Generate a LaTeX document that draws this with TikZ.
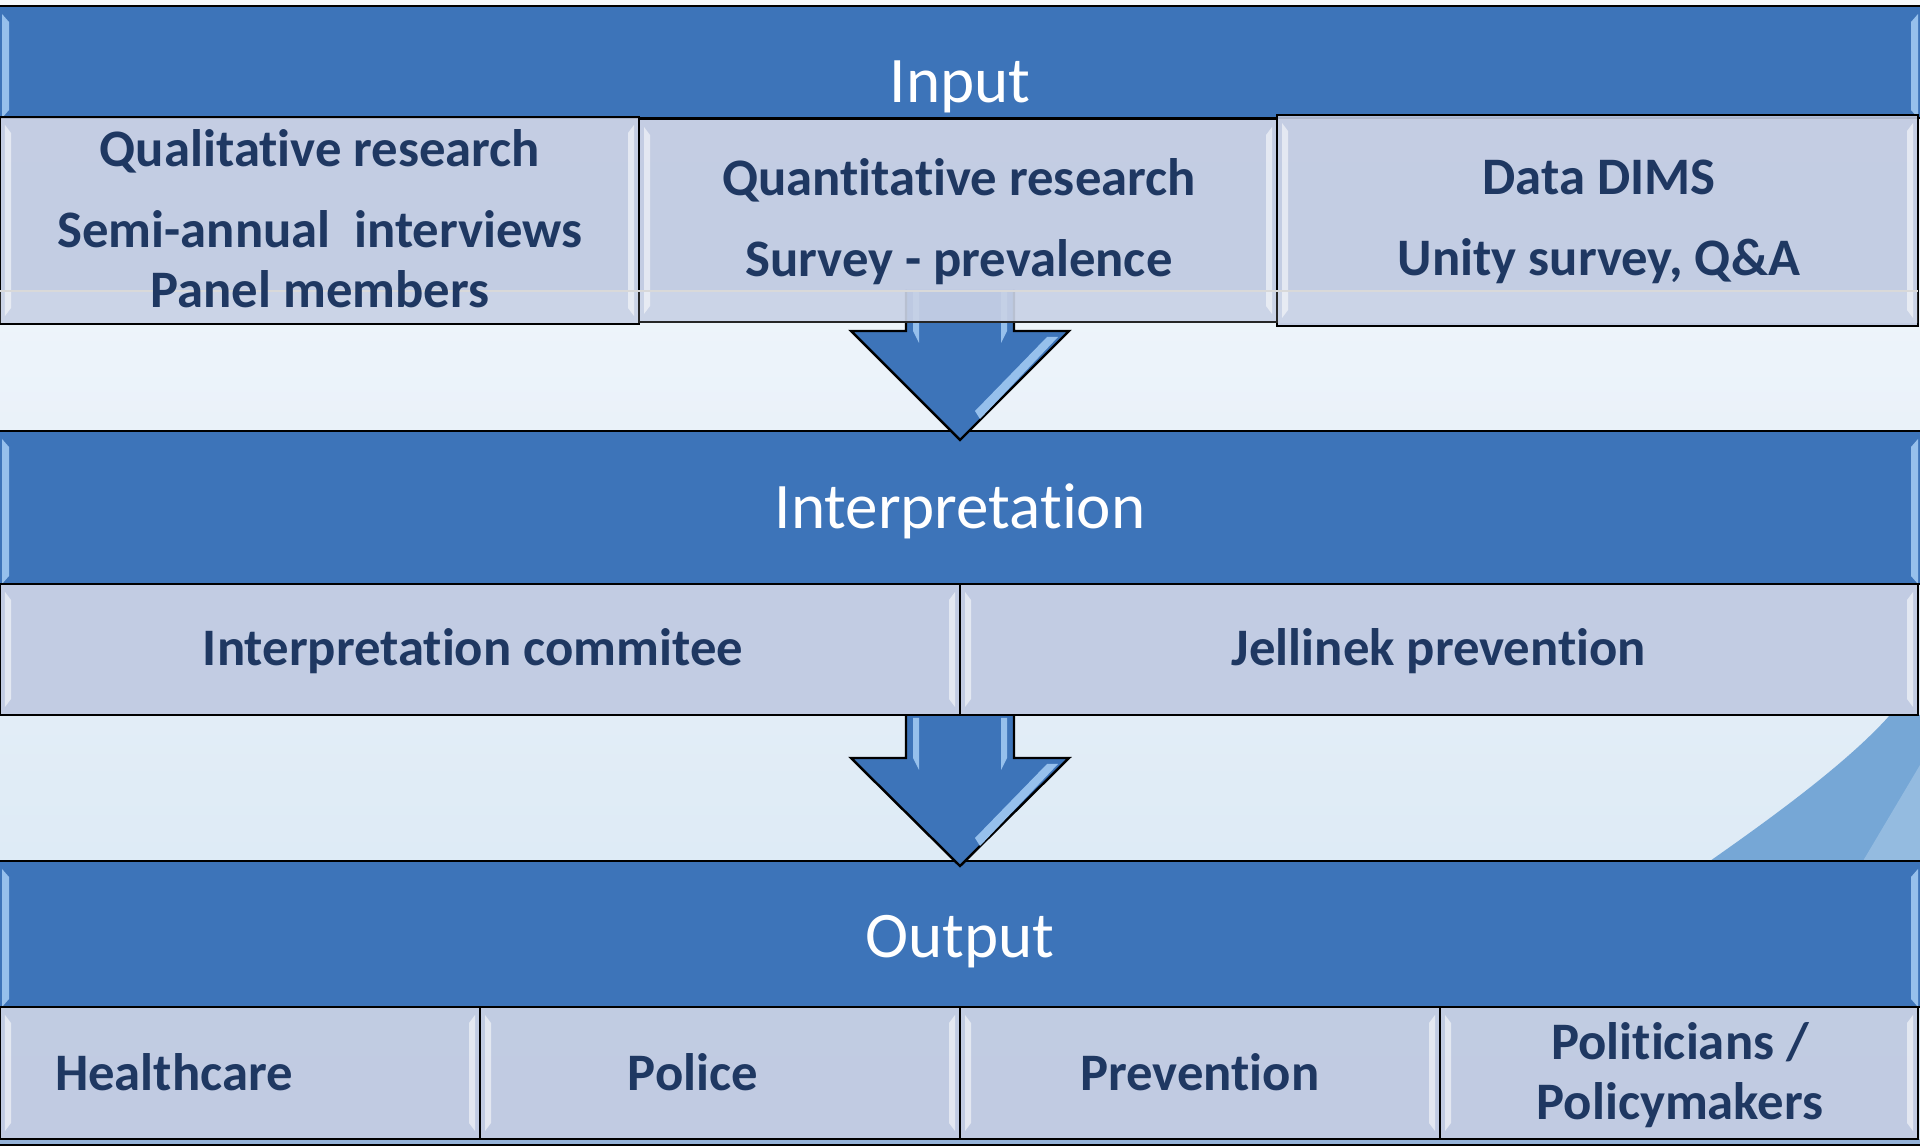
\documentclass[tikz,border=0pt]{standalone}
\usepackage{fontspec}
\setmainfont{Carlito}[Ligatures=NoCommon]
\usepackage{tikz}
\usetikzlibrary{calc, positioning}

\definecolor{bandblue}{RGB}{61,116,185}
\definecolor{bandedge}{RGB}{150,192,236}
\definecolor{boxfill}{RGB}{191,201,225}
\definecolor{textnavy}{RGB}{31,56,98}
\definecolor{bgtop}{RGB}{246,249,253}
\definecolor{bgbottom}{RGB}{214,230,243}
\definecolor{swoosh}{RGB}{118,167,214}
\definecolor{swooshlight}{RGB}{148,187,224}

\tikzset{
  band/.style={draw=black, line width=0.7pt, fill=bandblue},
  subbox/.style={draw=black, line width=0.7pt, fill=boxfill, fill opacity=0.9},
  bandtitle/.style={text=white, font=\fontsize{18.5}{22}\selectfont},
  subtext/.style={text=textnavy, align=center, font=\fontsize{15}{17}\selectfont\bfseries},
  bigarrow/.style={draw=black, line width=0.7pt, fill=bandblue, line join=miter},
  shine/.style={fill=white, fill opacity=0.55},
}

\begin{document}
\begin{tikzpicture}[x=0.1mm, y=-0.1mm]
    \useasboundingbox (0,0) rectangle (1920,1146);

    % background and swoosh
    \shade[top color=bgtop, bottom color=bgbottom] (0,0) rectangle (1920,1146);
    \fill[swoosh] (1710,861) .. controls (1780,812) and (1850,760) .. (1890,715) -- (1920,715) -- (1920,861) -- cycle;
    \fill[swooshlight] (1863,861) -- (1920,765) -- (1920,861) -- cycle;

    % bands
    \draw[band] (-5,6) rectangle (1925,118);
    \draw[band] (-5,431) rectangle (1925,584);
    \draw[band] (-5,861) rectangle (1925,1007);
    \fill[bandblue!55!white] (-5,1139) rectangle (1925,1146);
    \draw[line width=0.7pt] (-5,1145) -- (1925,1145);
    \foreach \ya/\yb in {6/118, 431/584, 861/1007} {
        \fill[bandedge] (2,\ya+8) -- (9,\ya+16) -- (9,\yb-8) -- (2,\yb) -- cycle;
        \fill[bandedge] (1918,\ya+8) -- (1911,\ya+16) -- (1911,\yb-8) -- (1918,\yb) -- cycle;
    }

    % arrows
    \draw[bigarrow] (906,290) -- (906,331) -- (851,331) -- (960,440) -- (1069,331) -- (1014,331) -- (1014,290);
    \draw[bigarrow] (906,715) -- (906,758) -- (851,758) -- (960,866) -- (1069,758) -- (1014,758) -- (1014,715);
    \foreach \yh in {331, 758} {
        \fill[bandedge] (913,\yh-40) -- (919,\yh-40) -- (919,\yh+12) -- (913,\yh) -- cycle;
        \fill[bandedge] (1001,\yh-40) -- (1007,\yh-40) -- (1007,\yh) -- (1001,\yh+12) -- cycle;
        \fill[bandedge] (1058,\yh+6) -- (1047,\yh+6) -- (975,\yh+80) -- (980,\yh+88) -- cycle;
    }

    % sub-boxes
    \foreach \xa/\ya/\xb/\yb in {0/117/639/324, 639/119/1277/322, 1277/115/1918/326,
                                 0/584/960/715, 960/584/1918/715,
                                 0/1007/480/1139, 480/1007/960/1139, 960/1007/1440/1139, 1440/1007/1918/1139} {
        \draw[subbox] (\xa,\ya) rectangle (\xb,\yb);
        \fill[shine] (\xa+5,\ya+8) -- (\xa+11,\ya+16) -- (\xa+11,\yb-16) -- (\xa+5,\yb-8) -- cycle;
        \fill[shine] (\xb-5,\ya+8) -- (\xb-11,\ya+16) -- (\xb-11,\yb-16) -- (\xb-5,\yb-8) -- cycle;
    }
    \fill[white, fill opacity=0.15] (0,291) rectangle (1918,323);
    \draw[black!15, line width=0.4pt] (0,291) -- (1918,291);

    % band titles
    \node[bandtitle] (input) at (960,87) {Input};
    \node[bandtitle] (interp) at (960,511) {Interpretation};
    \node[bandtitle] (output) at (960,942) {Output};

    % input row
    \node[subtext] (qual) at (320,219) {Qualitative research\\[6pt] Semi-annual~ interviews\\ Panel members};
    \node[subtext] (quant) at (959,222) {Quantitative research\\[6pt] Survey - prevalence};
    \node[subtext] (dims) at (1599,222) {Data DIMS\\[6pt] Unity survey, Q\&A};

    % interpretation row
    \node[subtext] (committee) at (473,651) {Interpretation commitee};
    \node[subtext] (jellinek) at (1439,651) {Jellinek prevention};

    % output row
    \node[subtext] (health) at (174,1072) {Healthcare};
    \node[subtext] (police) at (693,1072) {Police};
    \node[subtext] (prevention) at (1200,1072) {Prevention};
    \node[subtext] (policy) at (1680,1075) {Politicians /\\ Policymakers};
\end{tikzpicture}
\end{document}
